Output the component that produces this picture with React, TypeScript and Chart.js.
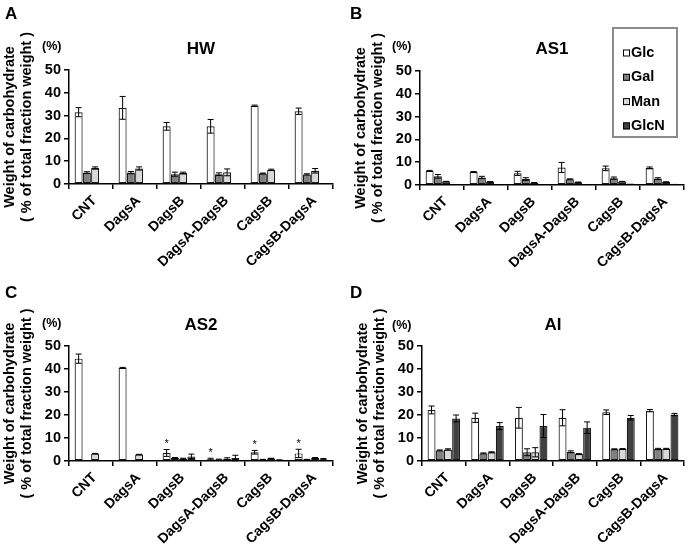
import React, { useEffect, useRef } from 'react';
import { Chart, registerables } from 'chart.js';

Chart.register(...registerables);

const FONT = '"Liberation Sans", Arial, Helvetica, sans-serif';

// ---------- data ----------
const categories = ['CNT', 'DagsA', 'DagsB', 'DagsA-DagsB', 'CagsB', 'CagsB-DagsA'];
const sugars = ['Glc', 'Gal', 'Man', 'GlcN'];
const yTicks = [0, 10, 20, 30, 40, 50];

// HW
const hwGlc = [31.5, 33.4, 25.3, 25.3, 34.3, 31.9];
const hwGlcErr = [2.0, 5.0, 1.7, 3.0, 0.3, 1.4];
const hwGal = [5.0, 5.0, 4.3, 4.3, 4.6, 4.2];
const hwGalErr = [0.4, 0.5, 0.9, 0.6, 0.2, 0.3];
const hwMan = [7.0, 6.8, 4.8, 5.1, 6.2, 5.8];
const hwManErr = [0.5, 0.7, 0.4, 1.5, 0.3, 1.0];
const hwGlcN = [0, 0, 0, 0, 0, 0];
const hwGlcNErr = [0, 0, 0, 0, 0, 0];

// AS1
const as1Glc = [6.2, 5.7, 5.1, 7.7, 7.3, 7.5];
const as1GlcErr = [0.2, 0.2, 0.9, 2.2, 1.0, 0.4];
const as1Gal = [3.8, 3.3, 2.6, 2.5, 3.0, 2.8];
const as1GalErr = [0.8, 0.5, 0.6, 0.2, 0.5, 0.4];
const as1Man = [1.5, 1.4, 1.0, 1.2, 1.5, 1.3];
const as1ManErr = [0.1, 0.1, 0.1, 0.1, 0.1, 0.1];
const as1GlcN = [0.3, 0.2, 0.3, 0.3, 0.7, 0.5];
const as1GlcNErr = [0, 0, 0, 0, 0, 0];

// AS2
const as2Glc = [44.5, 40.5, 3.5, 0.8, 3.8, 3.3];
const as2GlcErr = [2.0, 0.2, 1.5, 0.4, 0.8, 1.8];
const as2Gal = [0.3, 0.3, 1.3, 0.6, 0.6, 0.6];
const as2GalErr = [0, 0, 0.2, 0.2, 0.1, 0.1];
const as2Man = [3.2, 2.8, 1.0, 1.0, 1.1, 1.3];
const as2ManErr = [0.1, 0.1, 0.2, 0.4, 0.1, 0.2];
const as2GlcN = [0.3, 0.2, 2.0, 1.3, 0.4, 0.8];
const as2GlcNErr = [0, 0, 1.0, 1.2, 0.1, 0.3];
const as2Stars = ['', '', '*', '*', '*', '*'];

// AI
const aiGlc = [22.2, 18.8, 18.8, 18.8, 21.2, 21.9];
const aiGlcErr = [1.7, 2.0, 4.5, 3.5, 1.0, 0.5];
const aiGal = [4.6, 3.3, 3.8, 4.0, 5.1, 5.2];
const aiGalErr = [0.2, 0.2, 1.5, 0.4, 0.2, 0.3];
const aiMan = [5.0, 3.8, 3.8, 3.0, 5.2, 5.3];
const aiManErr = [0.3, 0.2, 2.0, 0.2, 0.2, 0.2];
const aiGlcN = [18.5, 15.2, 15.2, 14.5, 18.8, 20.2];
const aiGlcNErr = [1.5, 1.5, 5.0, 2.5, 1.0, 0.5];

const yTitle = ['Weight of carbohydrate', '( % of total fraction weight )'];
const pctLabel = '(%)';

// ---------- styles ----------
const sugarColors = ['#ffffff', '#808080', '#d9d9d9', '#404040'];

type PanelCfg = {
  letter: string;
  title: string;
  values: number[][];
  errors: number[][];
  stars?: string[];
  legend?: boolean;
  left: number;
  top: number;
  width: number;
  height: number;
  padLeft: number;
  padRight: number;
  padTop: number;
  xHeight: number;
  titleY: number;
  pctX: number;
  pctY: number;
  letterX: number;
  letterY: number;
};

const panels: PanelCfg[] = [
  {
    letter: 'A', title: 'HW',
    values: [hwGlc, hwGal, hwMan, hwGlcN], errors: [hwGlcErr, hwGalErr, hwManErr, hwGlcNErr],
    left: 0, top: 0, width: 345, height: 270,
    padLeft: 0, padRight: 12, padTop: 70, xHeight: 86,
    titleY: 49, pctX: 42, pctY: 47, letterX: 5, letterY: 14,
  },
  {
    letter: 'B', title: 'AS1',
    values: [as1Glc, as1Gal, as1Man, as1GlcN], errors: [as1GlcErr, as1GalErr, as1ManErr, as1GlcNErr],
    legend: true,
    left: 345, top: 0, width: 346, height: 270,
    padLeft: 6, padRight: 7, padTop: 71, xHeight: 85,
    titleY: 49, pctX: 47, pctY: 47, letterX: 5, letterY: 14,
  },
  {
    letter: 'C', title: 'AS2',
    values: [as2Glc, as2Gal, as2Man, as2GlcN], errors: [as2GlcErr, as2GalErr, as2ManErr, as2GlcNErr],
    stars: as2Stars,
    left: 0, top: 270, width: 345, height: 275,
    padLeft: 0, padRight: 12, padTop: 76, xHeight: 84,
    titleY: 55, pctX: 42, pctY: 54, letterX: 5, letterY: 23,
  },
  {
    letter: 'D', title: 'AI',
    values: [aiGlc, aiGal, aiMan, aiGlcN], errors: [aiGlcErr, aiGalErr, aiManErr, aiGlcNErr],
    left: 345, top: 270, width: 346, height: 275,
    padLeft: 8, padRight: 7, padTop: 76, xHeight: 84,
    titleY: 55, pctX: 47, pctY: 56, letterX: 5, letterY: 23,
  },
];

function makeDecorPlugin(cfg: PanelCfg) {
  return {
    id: 'decor' + cfg.letter,
    afterDatasetsDraw(chart: any) {
      const ctx = chart.ctx;
      const yS = chart.scales.y;
      const xS = chart.scales.x;
      const ca = chart.chartArea;
      ctx.save();
      // error bars
      chart.data.datasets.forEach((ds: any, i: number) => {
        const meta = chart.getDatasetMeta(i);
        meta.data.forEach((bar: any, j: number) => {
          const e = ds.errors ? ds.errors[j] : 0;
          const v = ds.data[j];
          if (!e) return;
          const yT = yS.getPixelForValue(v + e);
          const yB = yS.getPixelForValue(Math.max(v - e, 0));
          const x = bar.x;
          ctx.strokeStyle = '#000';
          ctx.lineWidth = 1;
          ctx.beginPath();
          ctx.moveTo(x, yT);
          ctx.lineTo(x, yB);
          ctx.moveTo(x - 3, yT);
          ctx.lineTo(x + 3, yT);
          ctx.moveTo(x - 3, yB);
          ctx.lineTo(x + 3, yB);
          ctx.stroke();
        });
      });
      // significance marks
      if (cfg.stars) {
        const ds = chart.data.datasets[0];
        const meta = chart.getDatasetMeta(0);
        cfg.stars.forEach((s, j) => {
          if (!s) return;
          const top = ds.data[j] + (ds.errors ? ds.errors[j] : 0);
          const y = yS.getPixelForValue(top);
          ctx.fillStyle = '#000';
          ctx.font = `11px ${FONT}`;
          ctx.textAlign = 'center';
          ctx.textBaseline = 'bottom';
          ctx.fillText(s, meta.data[j].x, y);
        });
      }
      // category labels (rotated 45°)
      ctx.fillStyle = '#000';
      ctx.font = `bold 14px ${FONT}`;
      ctx.textAlign = 'right';
      ctx.textBaseline = 'middle';
      chart.data.labels.forEach((lab: string, i: number) => {
        const x = xS.getPixelForTick(i);
        ctx.save();
        ctx.translate(x + 3.5, ca.bottom + 14.5);
        ctx.rotate(-Math.PI / 4);
        ctx.fillText(lab, 0, 0);
        ctx.restore();
      });
      // panel letter
      ctx.fillStyle = '#000';
      ctx.font = `bold 17px ${FONT}`;
      ctx.textAlign = 'left';
      ctx.textBaseline = 'middle';
      ctx.fillText(cfg.letter, cfg.letterX, cfg.letterY);
      // title
      ctx.font = `bold 17px ${FONT}`;
      ctx.textAlign = 'center';
      ctx.fillText(cfg.title, (ca.left + ca.right) / 2, cfg.titleY);
      // (%)
      ctx.font = `bold 12.5px ${FONT}`;
      ctx.textAlign = 'left';
      ctx.fillText(pctLabel, cfg.pctX, cfg.pctY);
      // legend
      if (cfg.legend) {
        const bx = 268, by = 28, bw = 64, bh = 109;
        ctx.strokeStyle = '#8c8c8c';
        ctx.lineWidth = 2;
        ctx.strokeRect(bx, by, bw, bh);
        chart.data.datasets.forEach((ds: any, i: number) => {
          const cy = 53 + i * 24.3;
          ctx.fillStyle = ds.backgroundColor;
          ctx.fillRect(278, cy - 3.5, 7, 7);
          ctx.strokeStyle = '#000';
          ctx.lineWidth = 1;
          ctx.strokeRect(278.5, cy - 3, 6, 6);
          ctx.fillStyle = '#000';
          ctx.font = `bold 14.5px ${FONT}`;
          ctx.textAlign = 'left';
          ctx.textBaseline = 'middle';
          ctx.fillText(ds.label, 286, cy);
        });
      }
      ctx.restore();
    },
  };
}

function Panel({ cfg }: { cfg: PanelCfg }) {
  const ref = useRef<HTMLCanvasElement | null>(null);
  useEffect(() => {
    if (!ref.current) return;
    const chart = new Chart(ref.current, {
      type: 'bar',
      data: {
        labels: categories,
        datasets: sugars.map((s, i) => ({
          label: s,
          data: cfg.values[i],
          errors: cfg.errors[i],
          backgroundColor: sugarColors[i],
          borderColor: '#1a1a1a',
          borderWidth: 1.2,
          borderSkipped: false,
          categoryPercentage: 0.75,
          barPercentage: 0.97,
        })) as any,
      },
      options: {
        responsive: false,
        animation: false,
        devicePixelRatio: 1,
        layout: { padding: { left: cfg.padLeft, right: cfg.padRight, top: cfg.padTop, bottom: 0 } },
        plugins: {
          legend: { display: false },
          tooltip: { enabled: false },
          title: { display: false },
        },
        scales: {
          x: {
            grid: {
              display: true,
              drawOnChartArea: false,
              drawTicks: true,
              tickLength: 5,
              color: '#000',
              lineWidth: 1.5,
              offset: true,
            },
            border: { display: true, color: '#000', width: 1.5 },
            ticks: { display: false, autoSkip: false, maxRotation: 0 },
            afterFit: (s: any) => { s.height = cfg.xHeight; },
          },
          y: {
            min: yTicks[0],
            max: yTicks[yTicks.length - 1],
            afterBuildTicks: (s: any) => { s.ticks = yTicks.map((v) => ({ value: v })); },
            ticks: {
              color: '#000',
              font: { family: FONT, weight: 'bold', size: 14.5 },
              padding: 3,
            },
            grid: {
              drawOnChartArea: false,
              drawTicks: true,
              tickLength: 5,
              color: '#000',
              lineWidth: 1.5,
            },
            border: { display: true, color: '#000', width: 1.5 },
            title: {
              display: true,
              text: yTitle,
              color: '#000',
              font: { family: FONT, weight: 'bold', size: 14.5, lineHeight: 1.15 },
              padding: { top: 2, bottom: 0 },
            },
            afterFit: (s: any) => { s.width = 69; },
          },
        },
      } as any,
      plugins: [makeDecorPlugin(cfg)],
    });
    return () => chart.destroy();
  }, [cfg]);
  return (
    <canvas
      ref={ref}
      width={cfg.width}
      height={cfg.height}
      style={{ position: 'absolute', left: cfg.left, top: cfg.top, width: cfg.width, height: cfg.height }}
    />
  );
}

export default function App() {
  return (
    <div style={{ position: 'fixed', left: 0, top: 0, width: 691, height: 545, background: '#fff' }}>
      {panels.map((p) => (
        <Panel key={p.letter} cfg={p} />
      ))}
    </div>
  );
}
